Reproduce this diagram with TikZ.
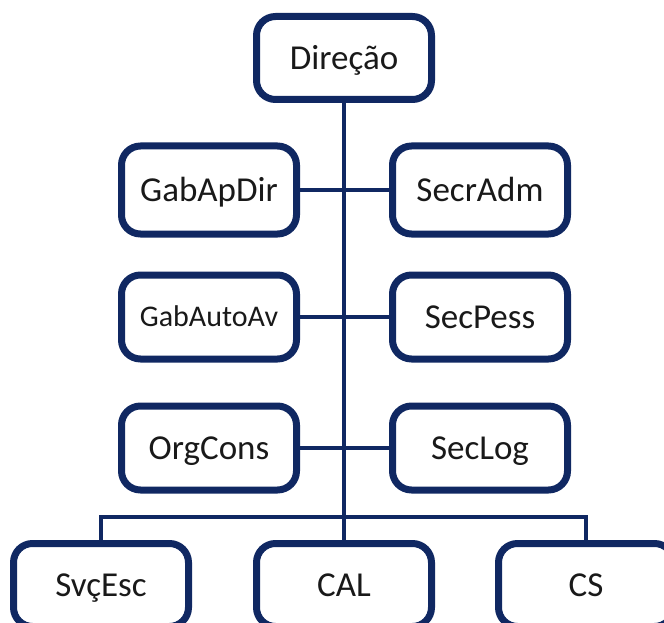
\documentclass[tikz,border=0pt]{standalone}
\usepackage{fontspec}
\setmainfont{Carlito}
\usetikzlibrary{backgrounds}
\definecolor{navy}{RGB}{16,40,98}
\definecolor{ink}{RGB}{25,25,25}
\begin{document}
\begin{tikzpicture}[x=1pt,y=-1pt,
  unit/.style={draw=navy, line width=7pt, rounded corners=19pt, fill=white,
    minimum width=175pt, inner sep=0pt, text=ink,
    font=\fontsize{35}{41}\selectfont, text height=22.4pt, text depth=0pt},
  smallunit/.style={unit, font=\fontsize{30}{36}\selectfont, text height=19.2pt},
  link/.style={draw=navy, line width=3.2pt}]
  \useasboundingbox (0,0) rectangle (664,623);
  \clip (0,0) rectangle (664,623);

  % top of the chart
  \node[unit, minimum height=83pt] (dir) at (344,58) {Direção};

  % paired units on both sides of the spine
  \node[unit, minimum height=88pt]      (gab)  at (209,190) {GabApDir};
  \node[unit, minimum height=88pt]      (sec)  at (480,190) {SecrAdm};
  \node[smallunit, minimum height=84pt] (auto) at (209,317) {GabAutoAv};
  \node[unit, minimum height=84pt]      (pess) at (480,317) {SecPess};
  \node[unit, minimum height=84pt]      (org)  at (209,448) {OrgCons};
  \node[unit, minimum height=84pt]      (log)  at (480,448) {SecLog};

  % bottom row
  \node[unit, minimum height=83pt] (svc) at (101,585) {SvçEsc};
  \node[unit, minimum height=83pt] (cal) at (344,585) {CAL};
  \node[unit, minimum height=83pt] (cs)  at (586,585) {CS};

  % connectors, kept behind the boxes
  \begin{scope}[on background layer]
    \path[link] (gab.east)  -- (sec.west);
    \path[link] (auto.east) -- (pess.west);
    \path[link] (org.east)  -- (log.west);
    \path[link] (dir.south) -- (cal.north);
    \path[link] (svc.north) -- ++(0,-23) -| (cs.north);
  \end{scope}
\end{tikzpicture}
\end{document}
